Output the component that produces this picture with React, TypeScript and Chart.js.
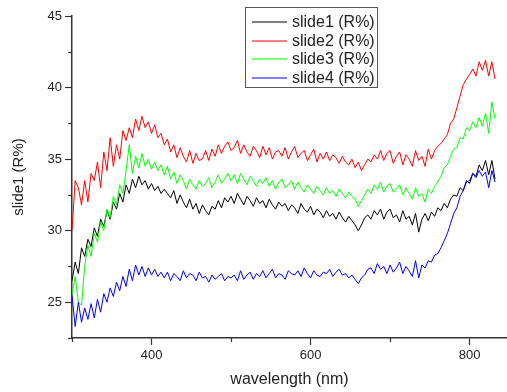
import React, { useEffect, useRef } from 'react';
import { Chart, registerables } from 'chart.js';

Chart.register(...registerables);

const wavelengths = [
  300, 304, 308, 312, 316, 320, 324, 328, 332, 336,
  340, 344, 348, 352, 356, 360, 364, 368, 372, 376,
  380, 384, 388, 392, 396, 400, 404, 408, 412, 416,
  420, 424, 428, 432, 436, 440, 444, 448, 452, 456,
  460, 464, 468, 472, 476, 480, 484, 488, 492, 496,
  500, 504, 508, 512, 516, 520, 524, 528, 532, 536,
  540, 544, 548, 552, 556, 560, 564, 568, 572, 576,
  580, 584, 588, 592, 596, 600, 604, 608, 612, 616,
  620, 624, 628, 632, 636, 640, 644, 648, 652, 656,
  660, 664, 668, 672, 676, 680, 684, 688, 692, 696,
  700, 704, 708, 712, 716, 720, 724, 728, 732, 736,
  740, 744, 748, 752, 756, 760, 764, 768, 772, 776,
  780, 784, 788, 792, 796, 800, 804, 808, 812, 816,
  820, 824, 828, 832,
];

const slide1 = [
  26.5, 27.8, 27.0, 28.8, 28.2, 29.4, 28.9, 30.2, 29.6, 30.8,
  30.3, 31.4, 30.8, 32.0, 31.5, 32.6, 32.0, 33.2, 32.6, 33.6,
  33.0, 33.8, 33.2, 33.5, 32.9, 33.3, 32.8, 33.1, 32.6, 32.9,
  32.6, 32.3, 32.8, 31.9, 32.5, 32.0, 31.6, 32.2, 31.5, 31.9,
  31.2, 31.8, 31.4, 31.1, 31.7, 31.5, 32.1, 31.6, 32.3, 32.0,
  32.4, 31.9, 32.6, 32.2, 31.8, 32.4, 32.1, 31.7, 32.3, 31.9,
  32.1, 31.6, 32.2, 31.8, 31.5, 32.0, 31.7, 31.9, 31.4, 31.8,
  31.6, 31.2, 31.9, 31.5, 31.3, 31.7, 31.1, 31.5, 31.3, 30.9,
  31.4, 31.0, 31.2, 30.8, 31.3, 30.9, 30.6, 31.0, 30.7, 30.4,
  30.0, 30.4, 30.9, 31.1, 30.8, 31.4, 31.1, 31.5, 30.8, 31.3,
  31.5, 30.9, 31.1, 30.6, 31.4, 30.8, 31.0, 30.4, 31.2, 29.9,
  30.8, 31.2, 30.7, 31.3, 31.0, 31.6, 31.4, 31.9, 31.6, 32.2,
  32.5, 32.4, 33.0, 32.8, 33.5, 33.3, 34.0, 33.8, 34.6, 34.2,
  34.9, 33.9, 34.9, 33.6,
];

const slide2 = [
  30.0, 33.5, 33.0, 31.8, 33.5, 32.0, 34.0, 33.5, 34.8, 33.0,
  35.5, 34.2, 36.5, 34.5, 36.0, 35.0, 37.0, 36.3, 37.2, 36.5,
  37.8, 37.0, 38.0, 37.2, 37.6, 36.8, 37.4, 36.5, 36.8, 36.0,
  36.4, 35.5, 36.0, 35.1, 35.8, 35.2, 34.8, 35.6, 34.7, 35.4,
  34.9, 35.0, 35.6, 34.9, 35.7, 35.2, 36.0, 35.4, 35.9, 36.2,
  35.6, 35.8, 36.3, 35.4, 36.0, 35.5, 35.2, 35.9, 35.6, 35.1,
  35.9, 35.3, 35.8, 35.0, 35.5, 35.6, 35.2, 35.8, 35.0, 35.5,
  35.9, 35.1, 35.4, 35.6, 34.9, 35.3, 35.7, 34.8, 35.4, 35.0,
  35.5, 34.9, 35.3, 35.1, 34.7, 35.2, 34.8, 34.6, 35.0, 34.4,
  34.8, 34.2, 34.6, 35.0, 34.8, 35.3, 35.0, 35.6, 34.9, 35.4,
  35.6, 34.7, 35.2, 35.5, 34.6, 35.3, 35.0, 34.5, 35.6, 34.9,
  35.2, 34.5, 35.7, 35.0, 35.6, 35.9, 36.1, 36.4, 36.7, 37.5,
  37.8, 38.6, 39.4, 40.2, 40.6, 40.9, 41.3, 40.8, 41.8, 41.2,
  41.9, 40.8, 41.8, 40.6,
];

const slide3 = [
  25.5, 26.8, 25.0, 24.8, 27.5, 29.0, 28.2, 29.8, 29.2, 30.6,
  30.0, 31.5, 30.9, 32.4, 31.8, 33.2, 32.6, 34.2, 36.0, 34.0,
  35.2, 34.4, 35.4, 34.5, 35.0, 34.3, 34.8, 34.2, 34.6, 33.9,
  34.5, 33.6, 34.1, 33.3, 33.9, 33.5, 32.9, 33.6, 33.2, 32.9,
  33.5, 33.1, 33.3, 33.7, 33.0, 33.4, 33.9, 33.3, 33.6, 34.0,
  33.5, 33.9, 33.3, 34.0, 33.6, 33.2, 33.8, 33.5, 33.1, 33.6,
  33.3, 33.7, 33.1, 33.5, 32.9, 33.4, 33.6, 33.0, 33.2, 33.5,
  32.9, 33.4, 33.0, 32.7, 33.2, 32.9, 32.6, 33.1, 32.8, 32.5,
  33.0, 32.6, 32.8, 32.4, 32.9, 32.6, 32.3, 32.7, 32.4, 32.2,
  31.7, 32.1, 32.5, 32.9, 32.6, 33.2, 32.9, 33.4, 32.7, 33.1,
  33.3, 32.7, 32.9, 33.2, 32.5, 33.0, 32.6, 32.2, 33.0, 32.4,
  32.6, 32.0, 32.9, 32.6, 33.1, 33.4, 33.8, 34.4, 34.6, 35.2,
  35.7, 35.8, 36.5, 36.4, 37.2, 37.0, 37.6, 37.2, 37.9, 37.3,
  38.2, 36.8, 39.0, 37.8,
];

const slide4 = [
  25.5, 23.3, 25.0, 23.6, 24.6, 23.8, 24.9, 23.9, 25.2, 24.3,
  25.6, 25.0, 26.0, 25.4, 26.4, 25.8, 26.8, 26.1, 27.3, 26.5,
  27.6, 26.9, 27.5, 26.8, 27.4, 26.9, 27.3, 26.8, 27.1, 26.7,
  27.1, 26.5, 27.0, 26.8, 26.5, 27.2, 26.7, 27.0, 26.9, 26.5,
  27.1, 26.7, 26.8, 26.4, 26.9, 26.6, 26.8, 27.0, 26.5, 26.8,
  26.7, 26.9, 26.5, 27.2, 26.6, 26.9, 27.1, 26.6, 27.0, 26.8,
  27.2, 26.7, 27.0, 27.3, 26.7, 27.0, 26.9, 26.6, 27.2, 27.0,
  26.9, 27.2, 26.8, 27.4, 27.0, 26.7, 27.2, 26.9, 26.8, 27.1,
  27.0, 27.3, 26.8, 27.1, 27.3, 26.9, 27.0, 26.7, 26.9, 26.6,
  26.3, 26.7, 26.9, 27.3, 27.4, 27.0, 27.7, 27.3, 27.5, 27.0,
  27.6, 27.1, 27.4, 27.8, 27.0, 27.5, 27.2, 26.8, 27.9, 26.7,
  27.6, 27.4, 27.9, 27.8, 28.3, 28.4, 28.8, 29.3, 29.8, 30.5,
  31.2, 31.6, 32.4, 32.8, 33.4, 33.5, 34.0, 33.7, 34.2, 33.8,
  34.1, 33.0, 34.2, 33.4,
];

const seriesLabels = ['slide1 (R%)', 'slide2 (R%)', 'slide3 (R%)', 'slide4 (R%)'];
const seriesColors = ['#000000', '#ff0000', '#00ff00', '#0000ff'];
const xMajorTicks = [400, 600, 800];
const xMinorTicks = [300, 500, 700];
const yMajorTicks = [25, 30, 35, 40, 45];
const yMinorTicks = [22.5, 27.5, 32.5, 37.5, 42.5];

const FONT = '"Liberation Sans", Arial, Helvetica, sans-serif';
const AXIS_COLOR = '#333333';
const TEXT_COLOR = '#222222';

const customPlugin = {
  id: 'customDecor',
  beforeDraw(chart: any) {
    const { ctx, width, height } = chart;
    ctx.save();
    ctx.fillStyle = '#ffffff';
    ctx.fillRect(0, 0, width, height);
    ctx.restore();
  },
  afterDraw(chart: any) {
    const ctx = chart.ctx;
    const xs = chart.scales.x;
    const ys = chart.scales.y;
    ctx.save();
    ctx.strokeStyle = AXIS_COLOR;
    ctx.lineWidth = 1.2;
    xMinorTicks.forEach((v) => {
      const px = Math.round(xs.getPixelForValue(v)) + 0.5;
      ctx.beginPath();
      ctx.moveTo(px, ys.bottom);
      ctx.lineTo(px, ys.bottom + 4);
      ctx.stroke();
    });
    yMinorTicks.forEach((v) => {
      const py = Math.round(ys.getPixelForValue(v)) + 0.5;
      ctx.beginPath();
      ctx.moveTo(xs.left, py);
      ctx.lineTo(xs.left - 4, py);
      ctx.stroke();
    });

    // legend box
    const bx = 245.5, by = 7.5, bw = 132, bh = 80;
    ctx.fillStyle = '#ffffff';
    ctx.fillRect(bx, by, bw, bh);
    ctx.strokeStyle = '#555555';
    ctx.lineWidth = 1;
    ctx.strokeRect(bx, by, bw, bh);
    ctx.font = '16px ' + FONT;
    ctx.textAlign = 'left';
    ctx.textBaseline = 'middle';
    seriesLabels.forEach((label, i) => {
      const y = Math.round(22 + i * 18.7);
      ctx.strokeStyle = seriesColors[i];
      ctx.lineWidth = 1.2;
      ctx.beginPath();
      ctx.moveTo(252, y);
      ctx.lineTo(287, y);
      ctx.stroke();
      ctx.fillStyle = TEXT_COLOR;
      ctx.fillText(label, 292, y + 0.5);
    });
    ctx.restore();
  },
};

export default function App() {
  const canvasRef = useRef<HTMLCanvasElement | null>(null);

  useEffect(() => {
    const canvas = canvasRef.current;
    if (!canvas) return;
    const seriesValues = [slide1, slide2, slide3, slide4];
    const chart = new Chart(canvas, {
      type: 'line',
      data: {
        datasets: seriesValues.map((vals, i) => ({
          label: seriesLabels[i],
          data: wavelengths.map((w, j) => ({ x: w, y: vals[j] })),
          borderColor: seriesColors[i],
          backgroundColor: seriesColors[i],
          borderWidth: 1,
          pointRadius: 0,
          tension: 0,
          fill: false,
          order: 4 - i,
        })),
      },
      options: {
        responsive: false,
        animation: false,
        events: [],
        layout: { padding: { top: 16, right: 0, left: 0, bottom: 0 } },
        plugins: {
          legend: { display: false },
          tooltip: { enabled: false },
        },
        scales: {
          x: {
            type: 'linear',
            min: 300,
            max: 847,
            afterBuildTicks: (scale: any) => {
              scale.ticks = [...xMinorTicks, ...xMajorTicks]
                .sort((a, b) => a - b)
                .map((value) => ({ value }));
            },
            afterFit: (scale: any) => {
              scale.height = 54;
            },
            ticks: {
              autoSkip: false,
              maxRotation: 0,
              padding: 3,
              color: TEXT_COLOR,
              font: { family: FONT, size: 13 },
              callback: (v: any) => (xMajorTicks.includes(Number(v)) ? String(v) : ''),
            },
            grid: {
              display: true,
              drawOnChartArea: false,
              drawTicks: true,
              tickLength: 7,
              tickWidth: 1.2,
              tickColor: (c: any) =>
                c.tick && xMajorTicks.includes(c.tick.value) ? AXIS_COLOR : 'rgba(0,0,0,0)',
            },
            border: { display: true, color: AXIS_COLOR, width: 1.5 },
            title: {
              display: true,
              text: 'wavelength (nm)',
              color: TEXT_COLOR,
              font: { family: FONT, size: 16 },
              padding: { top: 0, bottom: 3 },
            },
          },
          y: {
            type: 'linear',
            min: 22.5,
            max: 45,
            afterFit: (scale: any) => {
              scale.width = 72;
            },
            ticks: {
              stepSize: 2.5,
              autoSkip: false,
              padding: 3,
              color: TEXT_COLOR,
              font: { family: FONT, size: 13 },
              callback: (v: any) => (yMajorTicks.includes(Number(v)) ? String(v) : ''),
            },
            grid: {
              display: true,
              drawOnChartArea: false,
              drawTicks: true,
              tickLength: 7,
              tickWidth: 1.2,
              tickColor: (c: any) =>
                c.tick && yMajorTicks.includes(c.tick.value) ? AXIS_COLOR : 'rgba(0,0,0,0)',
            },
            border: { display: true, color: AXIS_COLOR, width: 1.5 },
            title: {
              display: true,
              text: 'slide1 (R%)',
              color: TEXT_COLOR,
              font: { family: FONT, size: 15 },
              padding: { top: 10, bottom: 0 },
            },
          },
        },
      },
      plugins: [customPlugin],
    } as any);
    return () => chart.destroy();
  }, []);

  return (
    <div style={{ position: 'fixed', left: 0, top: 0, width: 507, height: 392, background: '#fff' }}>
      <canvas ref={canvasRef} width={507} height={392} style={{ display: 'block', width: 507, height: 392 }} />
    </div>
  );
}
